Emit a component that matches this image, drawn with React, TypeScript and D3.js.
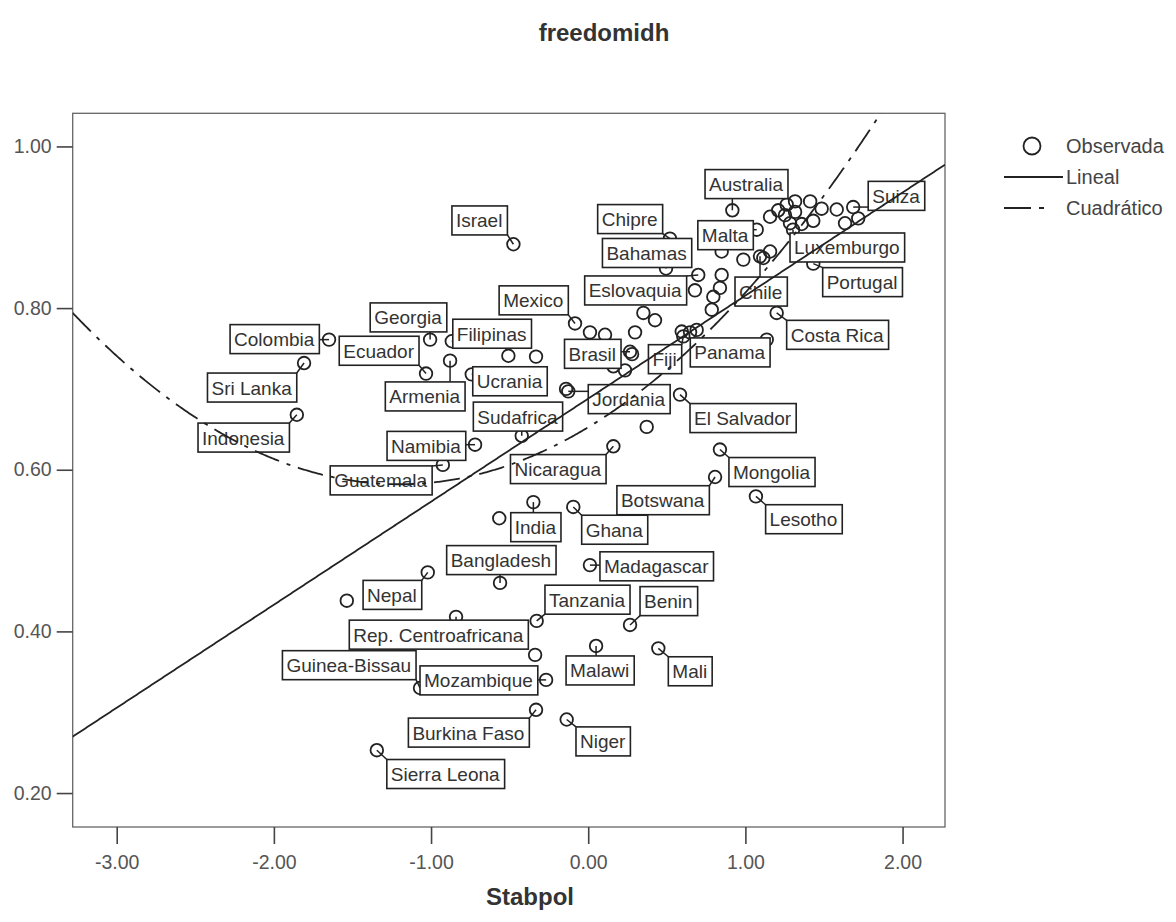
import React, { useEffect, useRef } from 'react';
import * as d3 from 'd3';

const W = 1176;
const H = 922;

// Labeled observations
const labeledNames = [
  'Colombia', 'Sri Lanka', 'Indonesia', 'Georgia', 'Ecuador', 'Armenia', 'Filipinas', 'Ucrania',
  'Sudafrica', 'Namibia', 'Guatemala', 'Israel', 'Mexico', 'Chipre', 'Bahamas', 'Australia',
  'Malta', 'Suiza', 'Luxemburgo', 'Portugal', 'Chile', 'Costa Rica', 'Eslovaquia', 'Brasil',
  'Fiji', 'Panama', 'Jordania', 'El Salvador', 'Nicaragua', 'Mongolia', 'Botswana', 'Lesotho',
  'India', 'Ghana', 'Bangladesh', 'Madagascar', 'Nepal', 'Tanzania', 'Benin', 'Rep. Centroafricana',
  'Guinea-Bissau', 'Mozambique', 'Malawi', 'Mali', 'Burkina Faso', 'Niger', 'Sierra Leona',
];
const labeledStab = [
  -1.649, -1.808, -1.854, -1.006, -1.032, -0.879, -0.868, -0.741,
  -0.423, -0.720, -0.925, -0.476, -0.084, 0.520, 0.495, 0.917,
  1.072, 1.686, 1.303, 1.432, 1.093, 1.199, 0.700, 0.266,
  0.605, 1.136, -0.127, 0.584, 0.160, 0.838, 0.807, 1.067,
  -0.349, -0.095, -0.561, 0.011, -1.021, -0.328, 0.266, -0.841,
  -1.070, -0.268, 0.050, 0.446, -0.332, -0.137, -1.345,
];
const labeledFree = [
  0.761, 0.732, 0.668, 0.761, 0.719, 0.735, 0.759, 0.718,
  0.642, 0.631, 0.606, 0.879, 0.781, 0.886, 0.849, 0.921,
  0.897, 0.925, 0.897, 0.855, 0.864, 0.794, 0.841, 0.746,
  0.765, 0.761, 0.697, 0.693, 0.629, 0.625, 0.591, 0.567,
  0.560, 0.554, 0.460, 0.482, 0.473, 0.413, 0.408, 0.418,
  0.330, 0.340, 0.382, 0.379, 0.303, 0.291, 0.253,
];

// Unlabeled observations
const otherStab = [
  -1.536, -0.566, -0.338, -0.508, -0.332, 0.372, 0.011, 0.107, 0.160, 0.234,
  0.351, 0.425, 0.298, 0.648, 0.690, 0.595, 0.849, 0.679, 0.838, 0.796,
  0.786, 0.987, 1.157, 1.114, 0.849, 1.157, 1.209, 1.263, 1.316, 1.412,
  1.485, 1.581, 1.718, 1.634, 1.432, 1.358, 1.284, 1.252, 1.316, 0.279, -0.141,
];
const otherFree = [
  0.438, 0.540, 0.371, 0.741, 0.740, 0.653, 0.770, 0.767, 0.728, 0.723,
  0.794, 0.785, 0.770, 0.770, 0.773, 0.771, 0.841, 0.822, 0.825, 0.814,
  0.798, 0.860, 0.870, 0.862, 0.870, 0.913, 0.921, 0.928, 0.932, 0.932,
  0.923, 0.922, 0.911, 0.905, 0.908, 0.904, 0.905, 0.915, 0.919, 0.743, 0.700,
];

// Fitted models: linear [a, b], quadratic [a, b, c]
const linearCoef = [0.688, 0.1275];
const quadCoef = [0.6526, 0.1176, 0.049];

const xTicks = [-3, -2, -1, 0, 1, 2];
const yTicks = [0.2, 0.4, 0.6, 0.8, 1.0];
const legendItems = ['Observada', 'Lineal', 'Cuadrático'];

// Label layout (pixel offsets): side L => box right edge at point + dx, side R => box left edge at point + dx; dy => box top
const labelLayout: [string, string, number, number][] = [
  ['Colombia', 'L', -9.7, -15], ['Sri Lanka', 'L', -7.3, 10], ['Indonesia', 'L', -7.4, 8.3],
  ['Georgia', 'L', 16.7, -36.7], ['Ecuador', 'L', -7, -37.3], ['Armenia', 'L', 15, 21.3],
  ['Filipinas', 'R', 1, -22], ['Ucrania', 'R', 1, -7.6], ['Sudafrica', 'R', -48.4, -33.7],
  ['Namibia', 'L', -9.3, -13.3], ['Guatemala', 'L', -10.7, 1], ['Israel', 'L', -6, -38.3],
  ['Mexico', 'L', -6.7, -37.6], ['Chipre', 'L', -7.3, -34], ['Bahamas', 'L', 25.7, -30],
  ['Australia', 'R', -27.3, -40.7], ['Malta', 'L', -3.4, -9], ['Suiza', 'R', 15, -25.7],
  ['Luxemburgo', 'R', -3, 3.3], ['Portugal', 'R', 9.4, 4], ['Chile', 'R', -25, 20.7],
  ['Costa Rica', 'R', 10, 7.4], ['Eslovaquia', 'L', -11.6, 1], ['Brasil', 'L', -9, -12.4],
  ['Fiji', 'L', -1.6, 8.3], ['Panama', 'L', 3.3, -1.7], ['Jordania', 'R', 20, -6.7],
  ['El Salvador', 'R', 10, 9], ['Nicaragua', 'L', -7.3, 8.3], ['Mongolia', 'R', 9, 8],
  ['Botswana', 'L', -5.7, 8.7], ['Lesotho', 'R', 9.7, 8.3], ['India', 'R', -22.6, 10.6],
  ['Ghana', 'R', 8.4, 8.3], ['Bangladesh', 'L', 56, -37.3], ['Madagascar', 'R', 10, -13.3],
  ['Nepal', 'L', -6, 8], ['Tanzania', 'R', 8.3, -35.7], ['Benin', 'R', 10, -38.3],
  ['Rep. Centroafricana', 'L', 72.3, 3.3], ['Guinea-Bissau', 'L', -4, -37.3],
  ['Mozambique', 'L', -8.3, -14], ['Malawi', 'R', -30, 10], ['Mali', 'R', 10, 8.4],
  ['Burkina Faso', 'L', -6.7, 8.3], ['Niger', 'R', 9.3, 7.4], ['Sierra Leona', 'R', 10, 9.3],
];

const FONT = "'Liberation Sans', Arial, Helvetica, sans-serif";
const INK = '#222';
const fmt = (d: d3.NumberValue) => (+d).toFixed(2);

export default function App() {
  const ref = useRef<SVGSVGElement>(null);

  useEffect(() => {
    const svg = d3.select(ref.current);
    svg.selectAll('*').remove();

    const left = 72.7, right = 945, top = 113.3, bottom = 827;
    const x = d3.scaleLinear().domain([-3.28, 2.27]).range([left, right]);
    const y = d3.scaleLinear().domain([0.158, 1.041]).range([bottom, top]);

    svg.append('rect').attr('width', W).attr('height', H).attr('fill', '#fff');

    // Title
    svg.append('text').attr('x', 604).attr('y', 41).attr('text-anchor', 'middle')
      .attr('font-family', FONT).attr('font-weight', 'bold').attr('font-size', 24)
      .attr('fill', '#333').text('freedomidh');

    // Plot frame
    svg.append('rect').attr('x', left).attr('y', top).attr('width', right - left).attr('height', bottom - top)
      .attr('fill', '#fff').attr('stroke', '#666').attr('stroke-width', 1.3);

    // Axes
    const yAxis = d3.axisLeft(y).tickValues(yTicks).tickFormat(fmt).tickSize(16).tickSizeOuter(0).tickPadding(5);
    const gy = svg.append('g').attr('transform', `translate(${left},0)`).call(yAxis);
    gy.select('.domain').remove();
    gy.selectAll('line').attr('stroke', '#444').attr('stroke-width', 1.6);
    gy.selectAll('text').attr('font-family', FONT).attr('font-size', 19.5).attr('fill', '#555');

    const xAxis = d3.axisBottom(x).tickValues(xTicks).tickFormat(fmt).tickSize(17).tickSizeOuter(0).tickPadding(11);
    const gx = svg.append('g').attr('transform', `translate(0,${bottom})`).call(xAxis);
    gx.select('.domain').remove();
    gx.selectAll('line').attr('stroke', '#444').attr('stroke-width', 1.6);
    gx.selectAll('text').attr('font-family', FONT).attr('font-size', 19.5).attr('fill', '#555');

    svg.append('text').attr('x', 530).attr('y', 905).attr('text-anchor', 'middle')
      .attr('font-family', FONT).attr('font-weight', 'bold').attr('font-size', 24)
      .attr('fill', '#333').text('Stabpol');

    const R = 6.3;
    const layoutMap = new Map(labelLayout.map((d) => [d[0], d]));

    const points = labeledNames.map((n, i) => ({ name: n, px: x(labeledStab[i]), py: y(labeledFree[i]) }));
    const others = otherStab.map((v, i) => ({ px: x(v), py: y(otherFree[i]) }));

    // Measure labels
    const measure = svg.append('text').attr('font-family', FONT).attr('font-size', 19).attr('opacity', 0);
    const boxes = points.map((p) => {
      measure.text(p.name);
      const tw = (measure.node() as SVGTextElement).getComputedTextLength();
      const bw = tw + 9;
      const bh = 29;
      const lay = layoutMap.get(p.name)!;
      const bx = lay[1] === 'L' ? p.px + lay[2] - bw : p.px + lay[2];
      const by = p.py + lay[3];
      return { ...p, bx, by, bw, bh };
    });
    measure.remove();

    // Leader lines
    svg.append('g').selectAll('line').data(boxes).join('line')
      .attr('x1', (d) => d.px).attr('y1', (d) => d.py)
      .attr('x2', (d) => Math.max(d.bx, Math.min(d.bx + d.bw, d.px)))
      .attr('y2', (d) => Math.max(d.by, Math.min(d.by + d.bh, d.py)))
      .attr('stroke', INK).attr('stroke-width', 1.5);

    // Circles
    const gc = svg.append('g').attr('fill', 'none').attr('stroke', INK).attr('stroke-width', 1.8);
    gc.selectAll('circle.o').data(others).join('circle').attr('class', 'o')
      .attr('cx', (d) => d.px).attr('cy', (d) => d.py).attr('r', R);
    gc.selectAll('circle.l').data(points).join('circle').attr('class', 'l')
      .attr('cx', (d) => d.px).attr('cy', (d) => d.py).attr('r', R);

    // Label boxes
    const gl = svg.append('g');
    gl.selectAll('rect').data(boxes).join('rect')
      .attr('x', (d) => d.bx).attr('y', (d) => d.by).attr('width', (d) => d.bw).attr('height', (d) => d.bh)
      .attr('fill', '#fff').attr('stroke', INK).attr('stroke-width', 1.6);
    gl.selectAll('text').data(boxes).join('text')
      .attr('x', (d) => d.bx + 4).attr('y', (d) => d.by + 21.5)
      .attr('font-family', FONT).attr('font-size', 19).attr('fill', '#333')
      .text((d) => d.name);

    // Fit lines
    svg.append('clipPath').attr('id', 'plotclip').append('rect')
      .attr('x', left).attr('y', top).attr('width', right - left).attr('height', bottom - top);
    const xs = d3.range(-3.28, 2.2701, 0.01);
    const lin = (v: number) => linearCoef[0] + linearCoef[1] * v;
    const quad = (v: number) => quadCoef[0] + quadCoef[1] * v + quadCoef[2] * v * v;
    const line = d3.line<number>();
    const gf = svg.append('g').attr('clip-path', 'url(#plotclip)').attr('fill', 'none').attr('stroke', INK);
    gf.append('path').attr('d', line(xs.map((v) => [x(v), y(lin(v))] as [number, number])))
      .attr('stroke-width', 1.8);
    gf.append('path').attr('d', line(xs.map((v) => [x(v), y(quad(v))] as [number, number])))
      .attr('stroke-width', 1.8).attr('stroke-dasharray', '26,8,4,8');

    // Legend
    const lg = svg.append('g').attr('font-family', FONT).attr('font-size', 20).attr('fill', '#444');
    const rows = [146, 177, 208];
    lg.append('circle').attr('cx', 1032).attr('cy', rows[0]).attr('r', 8.5)
      .attr('fill', 'none').attr('stroke', INK).attr('stroke-width', 1.8);
    lg.append('line').attr('x1', 1004).attr('x2', 1063).attr('y1', rows[1]).attr('y2', rows[1])
      .attr('stroke', INK).attr('stroke-width', 1.8);
    lg.append('line').attr('x1', 1004).attr('x2', 1060).attr('y1', rows[2]).attr('y2', rows[2])
      .attr('stroke', INK).attr('stroke-width', 1.8).attr('stroke-dasharray', '27,8,5,100');
    legendItems.forEach((t, i) => {
      lg.append('text').attr('x', 1066).attr('y', rows[i] + 7).text(t);
    });
  }, []);

  return (
    <svg ref={ref} width={W} height={H} style={{ position: 'absolute', left: 0, top: 0 }} />
  );
}
